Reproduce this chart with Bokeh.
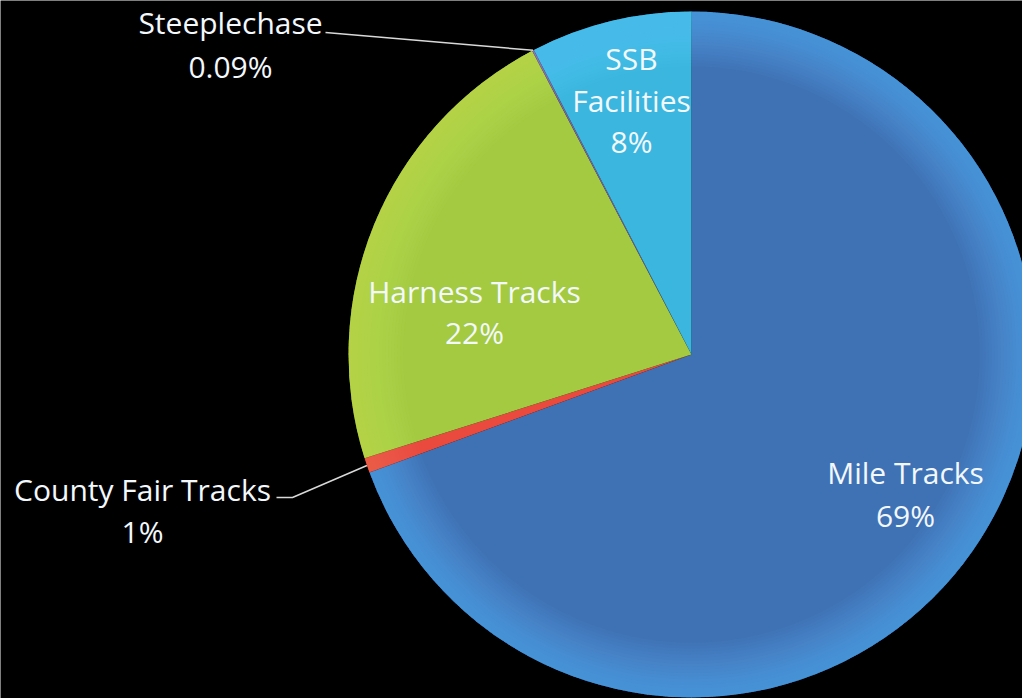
import numpy as np
from bokeh.plotting import figure
from bokeh.models import Range1d, ColumnDataSource
from bokeh.embed import file_html
from bokeh.resources import INLINE
from bokeh.core.properties import value

# ---- data ----
categories = ["Mile Tracks", "County Fair Tracks", "Harness Tracks", "Steeplechase", "SSB Facilities"]
shares = [69.4, 0.7, 22.2, 0.09, 7.6]
pct_labels = ["69%", "1%", "22%", "0.09%", "8%"]
colors = ["#3F72B4", "#EA4A3E", "#A3CA40", "#8064A2", "#3BB6DF"]
rim_colors = ["#66B2FA", "#FF7060", "#DAF262", "#A68BC6", "#66DAF8"]

# ---- layout ----
W, H = 1022, 698
CX, CY, R = 691, -354, 343

vals = np.array(shares, dtype=float)
frac = vals / vals.sum()
cw_end = np.cumsum(frac) * 2 * np.pi
cw_start = cw_end - frac * 2 * np.pi
start_angle = np.pi / 2 - cw_end
end_angle = np.pi / 2 - cw_start
mid_cw = (cw_start + cw_end) / 2

p = figure(width=W, height=H, x_range=Range1d(0, W), y_range=Range1d(-H, 0),
           output_backend="svg", toolbar_location=None, min_border=0)
p.background_fill_color = "black"
p.border_fill_color = "black"
p.outline_line_color = None
p.axis.visible = False
p.grid.visible = False

src = ColumnDataSource(dict(start=start_angle, end=end_angle, color=colors, rim=rim_colors))
p.wedge(x=CX, y=CY, radius=R, start_angle="start", end_angle="end",
        fill_color="color", line_color=None, source=src)

# lighter rim rings (approximate gradient toward the edge)
N = 18
for k in range(N):
    p.annular_wedge(x=CX, y=CY, inner_radius=R * (0.84 + 0.16 * k / N), outer_radius=R,
                    start_angle="start", end_angle="end",
                    fill_color="rim", fill_alpha=0.045, line_color=None, source=src)

# leader lines (edge points computed from the slice angles)
i_st = categories.index("Steeplechase")
ex = CX + R * np.sin(mid_cw[i_st])
ey = CY + R * np.cos(mid_cw[i_st])
p.line(x=[325, ex], y=[-32, ey], line_color="#D9D9D9", line_width=1.5)

i_cf = categories.index("County Fair Tracks")
ex = CX + R * np.sin(mid_cw[i_cf])
ey = CY + R * np.cos(mid_cw[i_cf])
p.line(x=[276, 292, ex], y=[-497, -497, ey], line_color="#D9D9D9", line_width=1.5)

# labels: (name lines..., pct) with positions in pixels
label_pos = {
    "Steeplechase": (230, [22], 66),
    "County Fair Tracks": (142, [489], 531),
    "Harness Tracks": (474, [291], 332),
    "SSB Facilities": (631, [58, 100], 141),
    "Mile Tracks": (905, [472], 515),
}
tx, ty, tt = [], [], []
for i, c in enumerate(categories):
    x0, ys, yp = label_pos[c]
    parts = ["SSB", "Facilities"] if c == "SSB Facilities" else [c]
    for part, yy in zip(parts, ys):
        tx.append(x0); ty.append(-yy); tt.append(part)
    tx.append(x0); ty.append(-yp); tt.append(pct_labels[i])

tsrc = ColumnDataSource(dict(x=tx, y=ty, t=tt))
p.text(x="x", y="y", text="t", source=tsrc, text_font=value("Open Sans"),
       text_font_size="30px", text_color="#F3F8FD", text_align="center",
       text_baseline="middle")

html = file_html(p, INLINE)
html = html.replace("<body>", '<body style="background:black;">', 1)
open("out.html", "w").write(html)
